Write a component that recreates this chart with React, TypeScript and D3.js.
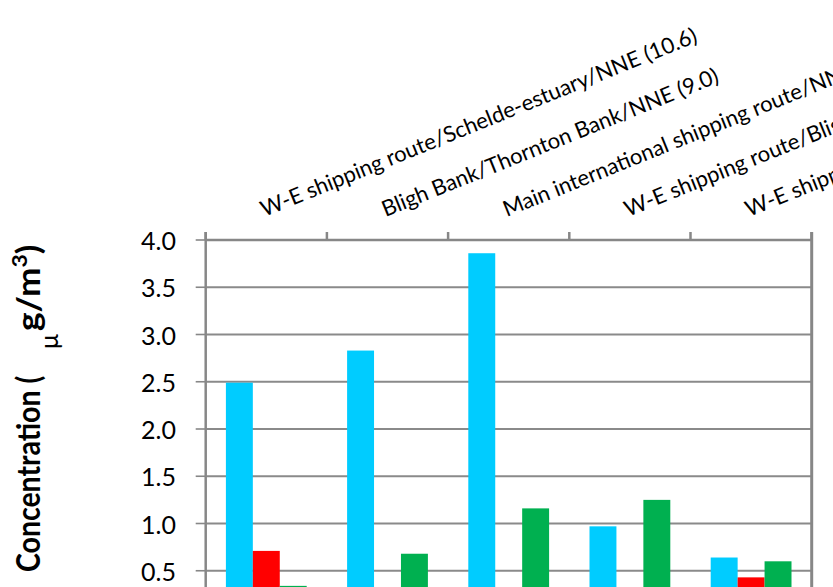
import React from 'react';
import * as d3 from 'd3';

const categories = [
  'W-E shipping route/Schelde-estuary/NNE (10.6)',
  'Bligh Bank/Thornton Bank/NNE (9.0)',
  'Main international shipping route/NNE (8.4)',
  'W-E shipping route/Bligh Bank/NE (7.5)',
  'W-E shipping route/Thornton Bank/E (6.2)',
];
const seriesNames = ['Series 1', 'Series 2', 'Series 3'];
const cyanValues = [2.49, 2.83, 3.86, 0.97, 0.64];
const redValues = [0.71, 0.2, 0.18, 0.22, 0.43];
const greenValues = [0.34, 0.68, 1.16, 1.25, 0.6];
const seriesValues = [cyanValues, redValues, greenValues];
const seriesColors = ['#00CCFF', '#FF0000', '#00B050'];
const yTicks = [0, 0.5, 1.0, 1.5, 2.0, 2.5, 3.0, 3.5, 4.0];

const FONT = 'Lato, Carlito, Calibri, sans-serif';

export default function App() {
  const W = 833;
  const H = 587;
  const left = 205.7;
  const right = 811.7;
  const top = 240;
  const zeroY = 618;

  const x = d3.scaleBand<string>().domain(categories).range([left, right]).padding(0);
  const xs = d3
    .scaleBand<string>()
    .domain(seriesNames)
    .range([0, x.bandwidth()])
    .paddingInner(0)
    .paddingOuter(0.75);
  const y = d3.scaleLinear().domain([0, 4]).range([zeroY, top]);
  const fmt = d3.format('.1f');

  const axisColor = '#878787';
  const gridColor = '#8a8a8a';

  const boundaries = categories.map((c) => x(c) as number).concat([right]);
  const visibleTicks = yTicks.filter((t) => y(t) < H - 5);

  return (
    <svg
      width={W}
      height={H}
      style={{ position: 'absolute', left: 0, top: 0, background: '#fff' }}
      fontFamily={FONT}
    >
      <rect x={0} y={0} width={W} height={H} fill="#fff" />
      {/* gridlines */}
      {yTicks.map((t) => (
        <line
          key={'g' + t}
          x1={left}
          x2={right}
          y1={y(t)}
          y2={y(t)}
          stroke={gridColor}
          strokeWidth={1.8}
        />
      ))}
      {/* bars */}
      {seriesValues.map((vals, si) =>
        vals.map((v, ci) => (
          <rect
            key={si + '-' + ci}
            x={(x(categories[ci]) as number) + (xs(seriesNames[si]) as number)}
            y={y(v)}
            width={xs.bandwidth()}
            height={zeroY - y(v)}
            fill={seriesColors[si]}
          />
        ))
      )}
      {/* top axis line */}
      <line x1={left} x2={right} y1={top} y2={top} stroke={axisColor} strokeWidth={2.5} />
      {/* top axis ticks */}
      {boundaries.map((b, i) => (
        <line key={'t' + i} x1={b} x2={b} y1={top - 8} y2={top} stroke={axisColor} strokeWidth={2.5} />
      ))}
      {/* left axis */}
      <line x1={left} x2={left} y1={top - 8} y2={zeroY} stroke={axisColor} strokeWidth={2.5} />
      {/* right border */}
      <line x1={right} x2={right} y1={top - 8} y2={zeroY} stroke={axisColor} strokeWidth={3} />
      {/* y ticks + labels */}
      {visibleTicks.map((t) => (
        <g key={'yt' + t}>
          <line x1={left - 10} x2={left} y1={y(t)} y2={y(t)} stroke={axisColor} strokeWidth={1.6} />
          <text
            x={176}
            y={y(t)}
            textAnchor="end"
            dominantBaseline="central"
            fontSize={25}
            fill="#000"
          >
            {fmt(t)}
          </text>
        </g>
      ))}
      {/* category labels (rotated) */}
      {categories.map((c) => {
        const cx = (x(c) as number) + x.bandwidth() / 2 - 2;
        return (
          <text
            key={'c' + c}
            transform={`translate(${cx},217) rotate(-22)`}
            fontSize={22}
            fill="#000"
          >
            {c}
          </text>
        );
      })}
      {/* y axis title */}
      <text
        transform="translate(40,572) rotate(-90) scale(0.89,1)"
        fontSize={32}
        fontWeight="bold"
        fill="#000"
      >
        Concentration (
      </text>
      <text transform="translate(58,349) rotate(-90)" fontSize={25} fill="#000">
        μ
      </text>
      <text
        transform="translate(40,331) rotate(-90) scale(1.1,1)"
        fontSize={32}
        fontWeight="bold"
        fill="#000"
      >
        g/m
        <tspan fontSize={21} dy={-13}>
          3
        </tspan>
        <tspan dy={13}>)</tspan>
      </text>
    </svg>
  );
}
